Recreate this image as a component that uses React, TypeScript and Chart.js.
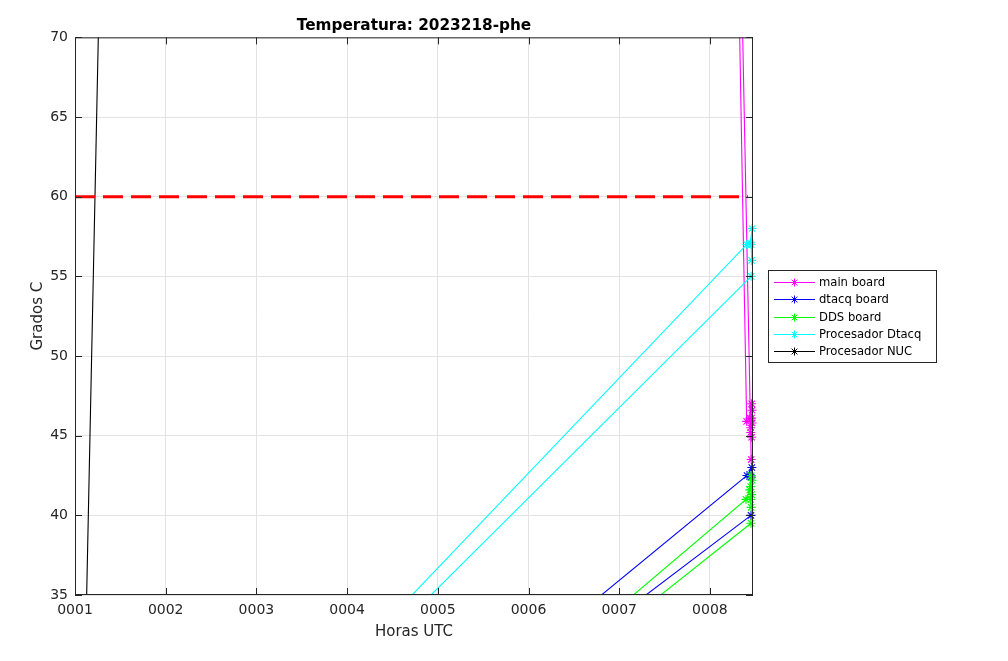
import { useEffect, useRef } from "react";
import { Chart, registerables, Plugin } from "chart.js";

Chart.register(...registerables);

// texto y ejes
const titulo = "Temperatura: 2023218-phe";
const etiquetaX = "Horas UTC";
const etiquetaY = "Grados C";
const horasTicks = [1, 2, 3, 4, 5, 6, 7, 8];
const gradosTicks = [35, 40, 45, 50, 55, 60, 65, 70];

// umbral de temperatura (linea roja)
const umbralHoras = [1, 8.42];
const umbralTemp = [60, 60];

// series (horas, grados); null = corte entre tramos
const mainBoardHoras = [8.233, 8.405, 8.44, 8.46, 8.465, 8.46, 8.465, 8.45, 8.45, 8.46, 8.46, 8.256, 8.455];
const mainBoardTemp = [100, 45.9, 46.1, 47.0, 46.6, 46.1, 45.8, 45.5, 45.2, 44.9, null, 100, 43.5];

const dtacqBoardHoras = [4.664, 8.409, 8.462, 8.455, 8.455, 4.979, 8.453];
const dtacqBoardTemp = [25, 42.5, 43.0, 42.4, null, 25, 40.0];

const ddsBoardHoras = [5.086, 8.398, 8.44, 8.455, 8.465, 8.45, 8.46, 8.45, 8.455, 8.455, 5.244, 8.453];
const ddsBoardTemp = [25, 41.0, 41.6, 42.5, 42.2, 41.8, 41.3, 41.0, 40.5, null, 25, 39.5];

const procDtacqHoras = [3.039, 8.406, 8.445, 8.465, 8.455, 8.46, 8.46, 3.158, 8.455];
const procDtacqTemp = [25, 57.0, 57.1, 58.0, 57.0, 56.0, null, 25, 55.0];

const procNucHoras = [1.0, 1.4];
const procNucTemp = [0, 109];

const puntos = (xs: number[], ys: (number | null)[]) => xs.map((x, i) => ({ x, y: ys[i] }));

const series = [
  { label: "main board", color: "#ff00ff", xs: mainBoardHoras, ys: mainBoardTemp },
  { label: "dtacq board", color: "#0000ff", xs: dtacqBoardHoras, ys: dtacqBoardTemp },
  { label: "DDS board", color: "#00ff00", xs: ddsBoardHoras, ys: ddsBoardTemp },
  { label: "Procesador Dtacq", color: "#00ffff", xs: procDtacqHoras, ys: procDtacqTemp },
  { label: "Procesador NUC", color: "#000000", xs: procNucHoras, ys: procNucTemp },
];

const GRIS = "#262626";

function estrella(ctx: CanvasRenderingContext2D, x: number, y: number, r: number) {
  const d = r * Math.SQRT1_2;
  ctx.beginPath();
  ctx.moveTo(x - r, y);
  ctx.lineTo(x + r, y);
  ctx.moveTo(x, y - r);
  ctx.lineTo(x, y + r);
  ctx.moveTo(x - d, y - d);
  ctx.lineTo(x + d, y + d);
  ctx.moveTo(x - d, y + d);
  ctx.lineTo(x + d, y - d);
  ctx.stroke();
}

// caja y marcas hacia adentro, estilo matlab
const ejesMatlab: Plugin = {
  id: "ejesMatlab",
  afterDatasetsDraw(chart) {
    const { ctx, chartArea: a, scales } = chart;
    const L = 7;
    ctx.save();
    ctx.strokeStyle = GRIS;
    ctx.lineWidth = 1;
    ctx.strokeRect(a.left + 0.5, a.top + 0.5, a.width - 1, a.height - 1);
    ctx.beginPath();
    scales.x.ticks.forEach((t) => {
      const px = Math.round(scales.x.getPixelForValue(t.value)) + 0.5;
      ctx.moveTo(px, a.bottom);
      ctx.lineTo(px, a.bottom - L);
      ctx.moveTo(px, a.top);
      ctx.lineTo(px, a.top + L);
    });
    scales.y.ticks.forEach((t) => {
      const py = Math.round(scales.y.getPixelForValue(t.value)) + 0.5;
      ctx.moveTo(a.left, py);
      ctx.lineTo(a.left + L, py);
      ctx.moveTo(a.right, py);
      ctx.lineTo(a.right - L, py);
    });
    ctx.stroke();
    ctx.restore();
  },
};

// leyenda con recuadro, fuera del area a la derecha
const leyendaMatlab: Plugin = {
  id: "leyendaMatlab",
  afterDraw(chart) {
    const { ctx, chartArea: a } = chart;
    const items = chart.data.datasets.filter((d: any) => d.enLeyenda);
    const paso = 17.2;
    const alto = Math.round(items.length * paso + 6);
    const x0 = a.right + 15;
    const ancho = 168;
    const y0 = Math.round((a.top + a.bottom) / 2 - alto / 2) + 0.5;
    ctx.save();
    ctx.fillStyle = "#ffffff";
    ctx.fillRect(x0, y0, ancho, alto);
    ctx.strokeStyle = GRIS;
    ctx.lineWidth = 1;
    ctx.strokeRect(x0 + 0.5, y0, ancho, alto);
    ctx.font = "11.6px 'DejaVu Sans'";
    ctx.textBaseline = "middle";
    ctx.textAlign = "left";
    items.forEach((d: any, i: number) => {
      const y = Math.round(y0 + 3 + paso * (i + 0.5)) + 0.5;
      ctx.strokeStyle = d.borderColor;
      ctx.lineWidth = 1;
      ctx.beginPath();
      ctx.moveTo(x0 + 6, y);
      ctx.lineTo(x0 + 47, y);
      ctx.stroke();
      estrella(ctx, x0 + 26.5, y, 4);
      ctx.fillStyle = "#000000";
      ctx.fillText(d.label, x0 + 51, y);
    });
    ctx.restore();
  },
};

export default function App() {
  const canvasRef = useRef<HTMLCanvasElement | null>(null);

  useEffect(() => {
    document.body.style.margin = "0";
    const ctx = canvasRef.current?.getContext("2d");
    if (!ctx) return;

    const datasets: any[] = [
      {
        label: "umbral",
        data: puntos(umbralHoras, umbralTemp),
        borderColor: "#ff0000",
        borderWidth: 3,
        borderDash: [20, 8],
        pointRadius: 0,
        order: 0,
        clip: 0,
      },
      ...series.map((s, i) => ({
        label: s.label,
        enLeyenda: true,
        data: puntos(s.xs, s.ys),
        borderColor: s.color,
        backgroundColor: s.color,
        borderWidth: 1.1,
        spanGaps: false,
        pointStyle: "star",
        pointRadius: 4.5,
        pointBorderWidth: 1.1,
        pointBorderColor: s.color,
        order: series.length - i,
        clip: { left: 0, top: 0, right: 6, bottom: 0 },
      })),
    ];

    const chart = new Chart(ctx, {
      type: "line",
      data: { datasets },
      options: {
        animation: false,
        responsive: true,
        maintainAspectRatio: false,
        layout: { padding: { left: 0, top: 0, right: 255, bottom: 0 } },
        plugins: {
          legend: { display: false },
          tooltip: { enabled: false },
          title: {
            display: true,
            text: titulo,
            fullSize: false,
            color: "#000000",
            font: { family: "'DejaVu Sans'", size: 15.3, weight: "bold" },
            padding: { top: 17, bottom: 2 },
          },
        },
        scales: {
          x: {
            type: "linear",
            min: 1,
            max: 8.475,
            afterFit: (s: any) => {
              s.height = 66;
            },
            afterBuildTicks: (s: any) => {
              s.ticks = horasTicks.map((value) => ({ value }));
            },
            grid: { color: "#e3e3e3", drawTicks: false },
            border: { display: false },
            ticks: {
              color: GRIS,
              padding: 7,
              maxRotation: 0,
              autoSkip: false,
              font: { family: "'DejaVu Sans'", size: 14 },
              callback: (v: any) => String(v).padStart(4, "0"),
            },
            title: {
              display: true,
              text: etiquetaX,
              color: GRIS,
              font: { family: "'DejaVu Sans'", size: 15 },
              padding: { top: 0, bottom: 20 },
            },
          },
          y: {
            type: "linear",
            min: 35,
            max: 70,
            afterFit: (s: any) => {
              s.width = 75;
            },
            afterBuildTicks: (s: any) => {
              s.ticks = gradosTicks.map((value) => ({ value }));
            },
            grid: { color: "#e3e3e3", drawTicks: false },
            border: { display: false },
            ticks: {
              color: GRIS,
              padding: 7,
              font: { family: "'DejaVu Sans'", size: 14 },
            },
            title: {
              display: true,
              text: etiquetaY,
              color: GRIS,
              font: { family: "'DejaVu Sans'", size: 15 },
              padding: { top: 29, bottom: 0 },
            },
          },
        },
      } as any,
      plugins: [ejesMatlab, leyendaMatlab],
    });

    return () => chart.destroy();
  }, []);

  return (
    <div style={{ position: "relative", width: 1008, height: 661, background: "#ffffff" }}>
      <canvas ref={canvasRef} />
    </div>
  );
}
